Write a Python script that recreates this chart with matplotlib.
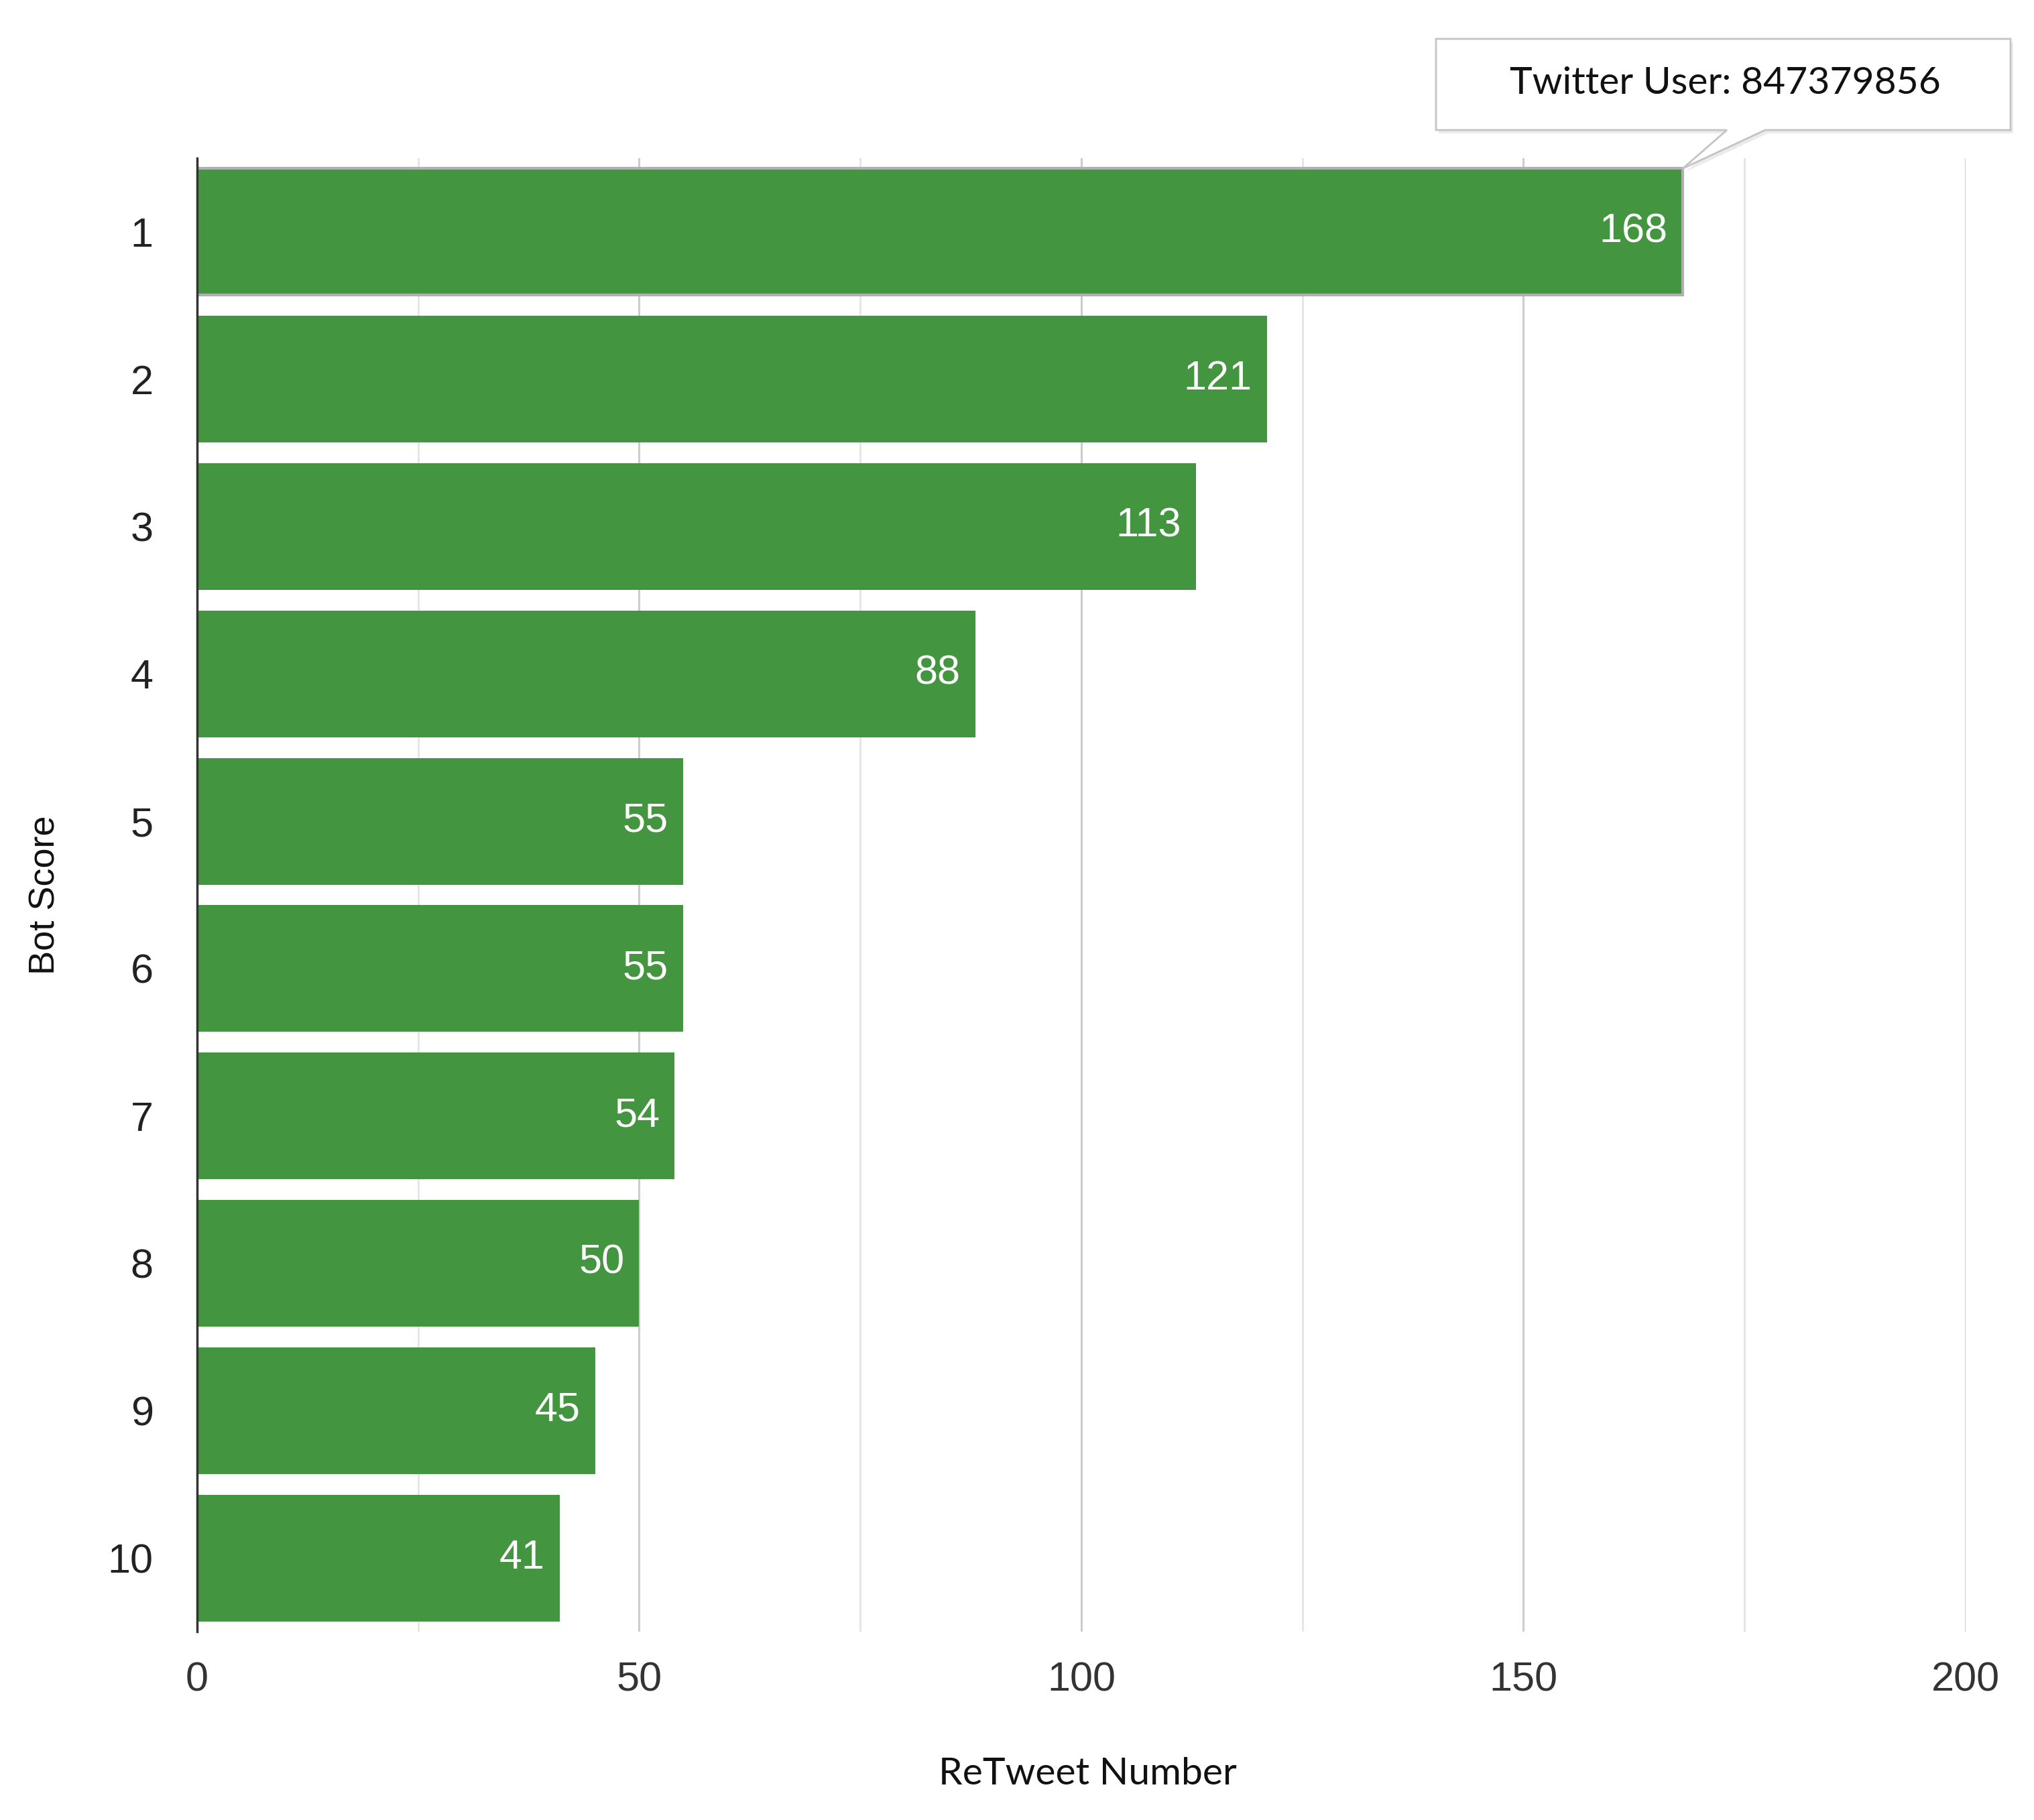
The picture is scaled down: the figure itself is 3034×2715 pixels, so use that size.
import matplotlib
matplotlib.use('Agg')
import matplotlib.pyplot as plt
from matplotlib.patches import Polygon

# data
bot_scores = ['1', '2', '3', '4', '5', '6', '7', '8', '9', '10']
retweets = [168, 121, 113, 88, 55, 55, 54, 50, 45, 41]
x_ticks = [0, 50, 100, 150, 200]
x_minor = [25, 75, 125, 175]
tooltip_text = 'Twitter User: 847379856'

W, H = 3034, 2715
DPI = 100
BAR_COLOR = '#43953F'
BAR_H = 0.86

plt.rcParams['font.family'] = ['Liberation Sans', 'DejaVu Sans']

fig = plt.figure(figsize=(W / DPI, H / DPI), dpi=DPI)
fig.patch.set_facecolor('white')

# axes placed in pixels of the reference
left, right, top, bottom = 294, 2932, 236, 2434
ax = fig.add_axes([left / W, 1 - bottom / H, (right - left) / W, (bottom - top) / H])

ypos = list(range(len(bot_scores)))
bars = ax.barh(ypos, retweets, height=BAR_H, color=BAR_COLOR, zorder=3)
# first bar is in hover state: gray outline
bars[0].set_edgecolor('#b0b0b0')
bars[0].set_linewidth(3)

ax.set_xlim(0, 200)
ax.set_ylim(len(bot_scores) - 0.5, -0.5)

ax.set_yticks(ypos)
ax.set_yticklabels(bot_scores)
ax.set_xticks(x_ticks)
ax.set_xticks(x_minor, minor=True)
ax.tick_params(axis='y', length=0, pad=47, labelsize=44, labelcolor='#222222')
ax.tick_params(axis='x', which='both', length=0, pad=32, labelsize=44, labelcolor='#333333')

ax.grid(axis='x', which='major', color='#cccccc', linewidth=2.2, zorder=0)
ax.grid(axis='x', which='minor', color='#e6e6e6', linewidth=2.2, zorder=0)
ax.grid(axis='y', visible=False)

for s in ['top', 'right', 'bottom']:
    ax.spines[s].set_visible(False)
ax.spines['left'].set_color('#333333')
ax.spines['left'].set_linewidth(2.5)
ax.spines['left'].set_zorder(4)

# value labels inside bar ends
for y, v in zip(ypos, retweets):
    ax.annotate(str(v), xy=(v, y), xytext=(-16, 0), textcoords='offset points',
                ha='right', va='center', color='white', fontsize=44, zorder=5)

fig.text(1622 / W, 1 - 2647 / H, 'ReTweet Number', ha='center', va='center',
         fontsize=41, color='#111111', family=['Lato', 'DejaVu Sans'])
fig.text(68 / W, 1 - 1335 / H, 'Bot Score', ha='center', va='center',
         rotation=90, fontsize=39, color='#111111')

# tooltip callout pointing at the end of the first bar
tip_x, tip_y = ax.transData.transform((retweets[0], -BAR_H / 2))
tip = (tip_x / W, tip_y / H)
bx0, bx1, by0, by1 = 2142, 2999, 58, 194
p0, p1 = 2576, 2633


def fp(x, y):
    return (x / W, 1 - y / H)


pts = [fp(bx0, by0), fp(bx1, by0), fp(bx1, by1), fp(p1, by1), tip,
       fp(p0, by1), fp(bx0, by1)]
shadow = Polygon([(x + 4 / W, y - 5 / H) for x, y in pts], closed=True,
                 transform=fig.transFigure, facecolor='#000000', alpha=0.08,
                 edgecolor='none', zorder=8)
box = Polygon(pts, closed=True, transform=fig.transFigure, facecolor='white',
              edgecolor='#c4c4c4', linewidth=2, zorder=9)
fig.add_artist(shadow)
fig.add_artist(box)
fig.text(2573 / W, 1 - 124 / H, tooltip_text, ha='center', va='center',
         fontsize=41, color='#111111', family=['Lato', 'DejaVu Sans'], zorder=10)

fig.savefig('out.png', dpi=DPI, facecolor='white')
